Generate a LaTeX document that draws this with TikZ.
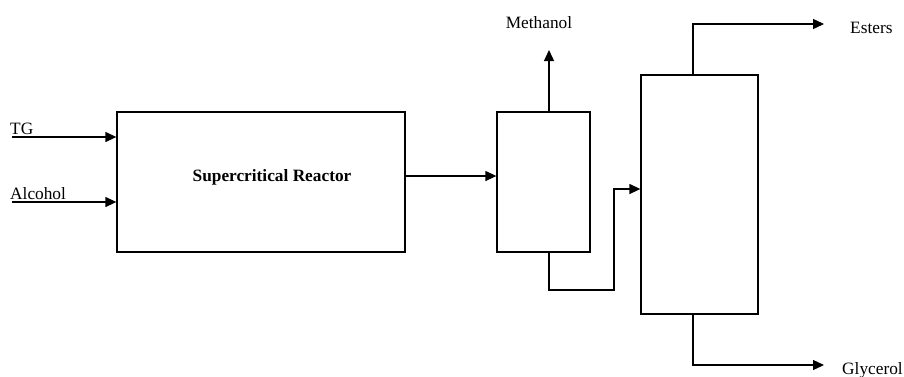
\documentclass[tikz,border=0pt]{standalone}
\usepackage{fontspec}
\setmainfont{Liberation Serif}
\usetikzlibrary{positioning,arrows.meta,calc}
\tikzset{
  unit/.style={rectangle, draw=black, line width=1.3pt, fill=white, inner sep=0pt},
  flow/.style={-{Triangle[length=11pt,width=10pt]}, draw=black, line width=1.3pt},
  lbl/.style={font=\fontsize{17.3}{20}\selectfont, inner sep=0pt},
  lblb/.style={lbl, font=\fontsize{17.3}{20}\selectfont\bfseries},
}
\begin{document}
\begin{tikzpicture}[x=1pt,y=-1pt]
  \useasboundingbox (0,0) rectangle (904,376);

  % process units -- reactor, methanol flash, separation column
  \node[unit, minimum width=288pt, minimum height=140pt] (reactor) at (261,182) {};
  \node[lblb, anchor=base] (rlabel) at (272,181) {Supercritical Reactor};
  \node[unit, minimum width=93pt, minimum height=140pt] (sep) at (543.5,182) {};
  \node[unit, minimum width=117pt, minimum height=239pt] (col) at (699.5,194.5) {};

  % feeds
  \node[lbl, anchor=base west] (tg) at (10,134) {TG};
  \node[lbl, anchor=base west] (alc) at (10,199) {Alcohol};
  \coordinate (tgin) at (12,137);
  \coordinate (alcin) at (12,202);
  \draw[flow] (tgin) -- (tgin -| reactor.west);
  \draw[flow] (alcin) -- (alcin -| reactor.west);

  % reactor outlet to flash
  \coordinate (rout) at (405,176);
  \draw[flow] (rout) -- (rout -| sep.west);

  % methanol off the top
  \coordinate (mtop) at (549,50);
  \node[lbl, anchor=base] (meoh) at (539,28) {Methanol};
  \draw[flow] (mtop |- sep.north) -- (mtop);

  % flash bottoms to column
  \coordinate (bend1) at (549,290);
  \coordinate (bend2) at (614,290);
  \coordinate (cin) at (614,189);
  \draw[flow] (bend1 |- sep.south) -- (bend1) -- (bend2) -- (cin) -- (cin -| col.west);

  % products
  \coordinate (etop) at (693,24);
  \coordinate (eout) at (824,24);
  \node[lbl, anchor=base west] (esters) at (850,33) {Esters};
  \draw[flow] (etop |- col.north) -- (etop) -- (eout);
  \coordinate (gbot) at (693,365);
  \coordinate (gout) at (824,365);
  \node[lbl, anchor=base west] (glyc) at (842,374) {Glycerol};
  \draw[flow] (gbot |- col.south) -- (gbot) -- (gout);
\end{tikzpicture}
\end{document}
